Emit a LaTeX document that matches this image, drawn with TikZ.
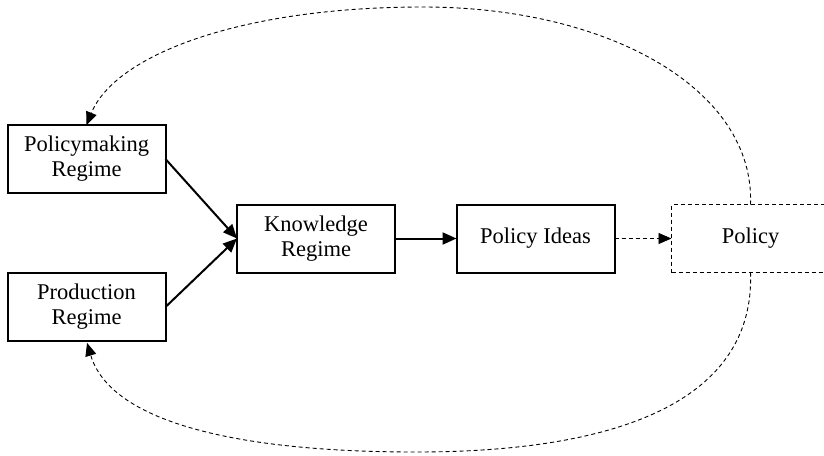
\documentclass[tikz,border=0pt]{standalone}
\usepackage{fontspec}
\setmainfont{Liberation Serif}
\usetikzlibrary{arrows.meta}
\begin{document}
\begin{tikzpicture}[x=1pt,y=-1pt,
  box/.style={draw,line width=2pt,rectangle,minimum width=158pt,minimum height=68pt,
    align=center,inner sep=0pt,outer sep=0pt,font=\fontsize{22.5}{25}\selectfont},
  dbox/.style={box,line width=0.9pt,dash pattern=on 4pt off 3pt},
  solidarrow/.style={line width=2pt,-{Triangle[length=14pt,width=12pt]}},
  dasharrow/.style={line width=0.9pt,dash pattern=on 4pt off 3pt,-{Triangle[length=13pt,width=11pt]}}]
\useasboundingbox (0,0) rectangle (824,455);
\clip (0,0) rectangle (824,455);
\node[box] (pm) at (86.5,159) {Policymaking\\Regime};
\node[box] (pr) at (86.5,307) {Production\\Regime};
\node[box] (kr) at (316,238.5) {Knowledge\\Regime};
\node[box] (pi) at (535.5,238.5) {Policy Ideas};
\node[dbox] (po) at (750.5,238.5) {Policy};
\draw[solidarrow] (pm.east) -- (kr.west);
\draw[solidarrow] (pr.east) -- (kr.west);
\draw[solidarrow] (kr.east) -- (pi.west);
\draw[dasharrow] (pi.east) -- (po.west);
\draw[dasharrow] (po.north) .. controls (755,90) and (610,7) .. (423,7)
  .. controls (240,7) and (115,55) .. (pm.north);
\draw[dasharrow,shorten >=2pt] (po.south) .. controls (755,400) and (620,452) .. (416,452)
  .. controls (230,452) and (110,420) .. (pr.south);
\end{tikzpicture}
\end{document}
